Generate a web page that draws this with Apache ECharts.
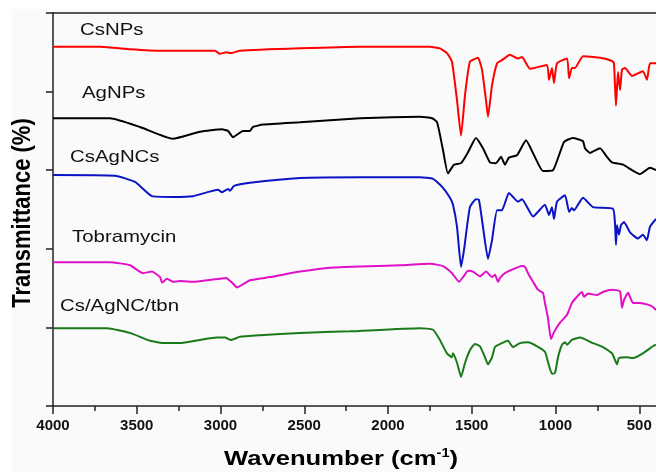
<!DOCTYPE html>
<html>
<head>
<meta charset="utf-8">
<script src="https://cdn.jsdelivr.net/npm/echarts@6/dist/echarts.min.js"></script>
<style>
  html, body { margin: 0; padding: 0; background: #fff; }
  #chart { width: 656px; height: 472px; }
</style>
</head>
<body>
<div id="chart"></div>
<script>
// wavenumber (cm-1), offset transmittance
var csNPs = [[4000,4.57],[3719,4.57],[3540,4.54],[3361,4.52],[3122,4.52],[3033,4.52],[3003,4.48],[2967,4.50],[2937,4.49],[2884,4.52],[2525,4.55],[2167,4.57],[1749,4.57],[1690,4.55],[1648,4.49],[1618,4.38],[1588,3.89],[1564,3.44],[1540,3.96],[1511,4.38],[1463,4.43],[1439,4.28],[1415,3.89],[1403,3.68],[1379,4.08],[1349,4.36],[1320,4.40],[1272,4.47],[1224,4.42],[1200,4.44],[1152,4.29],[1051,4.34],[1039,4.15],[1021,4.30],[1009,4.11],[991,4.36],[931,4.42],[919,4.17],[902,4.30],[884,4.30],[836,4.45],[734,4.43],[663,4.39],[651,4.36],[639,3.82],[627,4.25],[615,4.02],[603,4.28],[585,4.30],[543,4.20],[478,4.26],[454,4.15],[436,4.36],[400,4.36]];

var agNPs = [[4000,3.66],[3660,3.66],[3481,3.55],[3284,3.40],[3122,3.49],[2991,3.52],[2955,3.50],[2925,3.42],[2866,3.50],[2824,3.50],[2806,3.55],[2746,3.58],[2525,3.61],[2167,3.66],[1809,3.68],[1737,3.66],[1707,3.61],[1672,3.26],[1642,2.96],[1606,3.07],[1564,3.09],[1522,3.23],[1475,3.41],[1433,3.28],[1391,3.10],[1355,3.09],[1325,3.17],[1302,3.07],[1278,3.16],[1230,3.19],[1176,3.38],[1128,3.19],[1075,2.99],[1015,3.00],[949,3.36],[896,3.41],[836,3.37],[824,3.28],[794,3.22],[734,3.28],[693,3.17],[663,3.10],[597,3.07],[496,2.95],[436,3.03],[400,3.00]];

var csAgNCs = [[4000,2.94],[3630,2.93],[3510,2.85],[3409,2.67],[3284,2.66],[3164,2.67],[3015,2.75],[2991,2.72],[2955,2.76],[2943,2.74],[2919,2.80],[2824,2.84],[2525,2.90],[2167,2.91],[1809,2.91],[1731,2.89],[1678,2.79],[1630,2.65],[1612,2.56],[1588,2.28],[1564,1.77],[1546,1.99],[1511,2.53],[1475,2.63],[1457,2.62],[1433,2.28],[1403,1.87],[1379,2.11],[1349,2.49],[1320,2.49],[1278,2.71],[1224,2.60],[1200,2.63],[1134,2.41],[1063,2.56],[1039,2.43],[1021,2.53],[1009,2.38],[991,2.60],[943,2.68],[919,2.47],[902,2.52],[890,2.49],[836,2.65],[776,2.53],[657,2.51],[645,2.33],[639,2.05],[633,2.30],[621,2.18],[609,2.30],[591,2.34],[555,2.21],[508,2.13],[478,2.18],[454,2.11],[436,2.28],[400,2.38]];

var tobramycin = [[4000,1.83],[3660,1.83],[3540,1.79],[3463,1.69],[3409,1.71],[3361,1.64],[3349,1.57],[3319,1.62],[3284,1.58],[3242,1.59],[3152,1.58],[3003,1.62],[2967,1.63],[2931,1.57],[2902,1.51],[2824,1.60],[2704,1.64],[2525,1.71],[2346,1.76],[1928,1.79],[1749,1.81],[1672,1.78],[1618,1.69],[1576,1.58],[1552,1.64],[1522,1.72],[1493,1.71],[1451,1.65],[1415,1.71],[1379,1.64],[1361,1.67],[1343,1.58],[1331,1.63],[1302,1.69],[1230,1.76],[1200,1.78],[1182,1.77],[1164,1.69],[1134,1.58],[1105,1.48],[1075,1.44],[1063,1.31],[1045,1.12],[1027,0.85],[1009,0.94],[973,1.06],[931,1.16],[902,1.31],[872,1.39],[842,1.45],[830,1.39],[806,1.43],[752,1.41],[717,1.45],[663,1.48],[615,1.46],[603,1.25],[591,1.35],[567,1.44],[537,1.31],[496,1.31],[448,1.29],[418,1.26],[400,1.22]];

var csAgNCtbn = [[4000,0.99],[3678,0.99],[3540,0.93],[3421,0.83],[3331,0.80],[3242,0.80],[3122,0.84],[3021,0.87],[2973,0.87],[2937,0.84],[2884,0.88],[2764,0.90],[2525,0.93],[2227,0.95],[1809,0.99],[1731,0.97],[1690,0.84],[1648,0.67],[1618,0.62],[1612,0.67],[1588,0.55],[1564,0.37],[1540,0.55],[1511,0.71],[1481,0.79],[1451,0.76],[1421,0.62],[1403,0.53],[1379,0.62],[1361,0.75],[1320,0.80],[1284,0.83],[1254,0.75],[1212,0.80],[1164,0.81],[1110,0.76],[1063,0.69],[1045,0.56],[1021,0.41],[1003,0.42],[985,0.62],[961,0.78],[943,0.81],[931,0.78],[902,0.84],[854,0.87],[776,0.80],[717,0.75],[663,0.67],[651,0.62],[633,0.53],[621,0.61],[573,0.62],[537,0.61],[478,0.67],[418,0.76],[400,0.78]];

var names = ['CsNPs', 'AgNPs', 'CsAgNCs', 'Tobramycin', 'Cs/AgNC/tbn'];
var colors = ['#ff0000', '#000000', '#0a14c4', '#e010c8', '#1a7a1a'];
var spectra = [csNPs, agNPs, csAgNCs, tobramycin, csAgNCtbn];

// where each curve name sits (left, middle y)
var labelPos = [[80, 30], [82, 93], [70, 157], [72, 237], [60, 306]];

var FONT = 'Liberation Sans, Arial';
var AXIS = '#222';

var chart = echarts.init(document.getElementById('chart'));

chart.setOption({
  backgroundColor: '#fafafa',
  animation: false,
  grid: [
    { left: 53, right: 0, top: 13, bottom: 66 },
    // tick grid: ends at 500 cm-1 so the 500 step lines up with min
    { left: 53, right: 16.75, top: 13, bottom: 66 }
  ],
  xAxis: [{
    type: 'value', gridIndex: 0,
    min: 400, max: 4000, inverse: true,
    axisLine: { show: true, lineStyle: { color: AXIS, width: 1.5 } },
    axisTick: { show: false },
    axisLabel: { show: false },
    splitLine: { show: false }
  }, {
    type: 'value', gridIndex: 0, position: 'top',
    min: 400, max: 4000, inverse: true,
    axisLine: { show: true, lineStyle: { color: AXIS, width: 1.5 } },
    axisTick: { show: false },
    axisLabel: { show: false },
    splitLine: { show: false }
  }, {
    type: 'value', gridIndex: 1,
    min: 500, max: 4000, interval: 500, inverse: true,
    axisLine: { show: false },
    axisTick: { show: true, inside: false, length: 8, lineStyle: { color: AXIS, width: 1.5 } },
    minorTick: { show: true, splitNumber: 2, length: 5, lineStyle: { color: AXIS, width: 1.5 } },
    splitLine: { show: false },
    axisLabel: {
      margin: 12,
      fontFamily: FONT,
      fontWeight: 'bold',
      fontSize: 15,
      color: '#111',
      formatter: function (v) { return String(v); }
    }
  }],
  yAxis: [{
    type: 'value', gridIndex: 0,
    min: 0, max: 5, interval: 1,
    axisLine: { show: true, lineStyle: { color: AXIS, width: 1.5 } },
    axisTick: { show: true, inside: false, length: 7, lineStyle: { color: AXIS, width: 1.5 } },
    axisLabel: { show: false },
    splitLine: { show: false }
  }, {
    type: 'value', gridIndex: 1, min: 0, max: 5, show: false
  }],
  graphic: [
    { type: 'rect', left: 0, top: 0, shape: { width: 12, height: 472 }, style: { fill: '#fff' }, silent: true },
    { type: 'rect', left: 0, top: 0, shape: { width: 656, height: 9 }, style: { fill: '#fff' }, silent: true },
    {
      type: 'text', x: 23, y: 213, rotation: Math.PI / 2, scaleY: 1.15,
      style: { text: 'Transmittance (%)', fontFamily: FONT, fontWeight: 'bold', fontSize: 22, fill: '#000', align: 'center', verticalAlign: 'middle' }
    },
    {
      type: 'text', x: 341, y: 459, scaleX: 1.22,
      style: {
        text: 'Wavenumber (cm{sup|-1})',
        fontFamily: FONT, fontWeight: 'bold', fontSize: 21, fill: '#000',
        align: 'center', verticalAlign: 'middle',
        rich: { sup: { fontFamily: FONT, fontWeight: 'bold', fontSize: 12, fill: '#000', padding: [0, 0, 11, 0] } }
      }
    }
  ].concat(names.map(function (n, i) {
    return {
      type: 'text', x: labelPos[i][0], y: labelPos[i][1], scaleX: 1.2,
      style: { text: n, fontFamily: FONT, fontSize: 17, fill: '#111', verticalAlign: 'middle' }
    };
  })),
  series: spectra.map(function (d, i) {
    return {
      name: names[i],
      type: 'line',
      xAxisIndex: 0,
      yAxisIndex: 0,
      data: d,
      showSymbol: false,
      smooth: 0.15,
      lineStyle: { color: colors[i], width: 2 },
      itemStyle: { color: colors[i] }
    };
  })
});
</script>
</body>
</html>
